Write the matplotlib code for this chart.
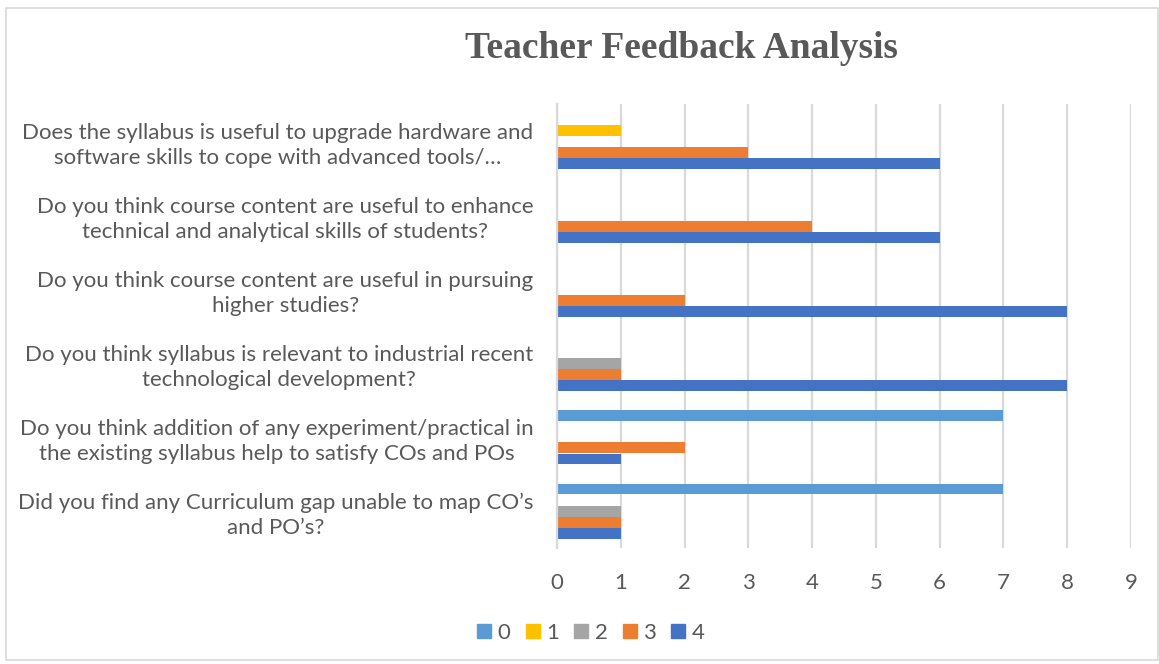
import matplotlib.pyplot as plt
import numpy as np
from matplotlib.patches import Rectangle
from matplotlib.lines import Line2D

# Questions (top to bottom)
questions = [
    "Does the syllabus is useful to upgrade hardware and\nsoftware skills to cope with advanced tools/…",
    "Do you think course content are useful to enhance\ntechnical and analytical skills of students?",
    "Do you think course content are useful in pursuing\nhigher studies?",
    "Do you think syllabus is relevant to industrial recent\ntechnological development?",
    "Do you think addition of any experiment/practical in\nthe existing syllabus help to satisfy COs and POs",
    "Did you find any Curriculum gap unable to map CO’s\nand PO’s?",
]

# Responses per rating (0..4), one value per question
series_names = ["0", "1", "2", "3", "4"]
r0 = [0, 0, 0, 0, 7, 7]
r1 = [1, 0, 0, 0, 0, 0]
r2 = [0, 0, 0, 1, 0, 1]
r3 = [3, 4, 2, 1, 2, 1]
r4 = [6, 6, 8, 8, 1, 1]
series = [r0, r1, r2, r3, r4]
colors = ["#5B9BD5", "#FFC000", "#A5A5A5", "#ED7D31", "#4472C4"]

text_gray = "#595959"
grid_gray = "#D9D9D9"

fig = plt.figure(figsize=(11.59, 6.64), dpi=100)
ax = fig.add_axes([557 / 1159, 1 - 548 / 664, (1131 - 557) / 1159, (548 - 104) / 664])

# border around the chart area
fig.patches.append(Rectangle((6 / 1159, 4 / 664), 1152 / 1159, 652 / 664,
                             transform=fig.transFigure, fill=False,
                             edgecolor=grid_gray, linewidth=1.2))

y = np.arange(len(questions))
h = 11 / 74
for i, (vals, c, name) in enumerate(zip(series, colors, series_names)):
    ax.barh(y + (i - 2) * h, vals, height=h, color=c, label=name)

ax.set_xlim(0, 9)
ax.set_ylim(len(questions) - 0.5, -0.5)
ax.set_xticks(range(10))
ax.xaxis.grid(True, color=grid_gray, linewidth=1.6)
ax.set_axisbelow(True)
for s in ["top", "right", "bottom"]:
    ax.spines[s].set_visible(False)
ax.spines["left"].set_color(grid_gray)
ax.spines["left"].set_linewidth(1.6)

ax.set_yticks(y)
ax.set_yticklabels(questions, fontsize=16, color=text_gray, family="Lato",
                   multialignment="center", linespacing=1.3)
ax.tick_params(axis="y", length=0, pad=17)
ax.tick_params(axis="x", length=0, pad=18, labelsize=16, labelcolor=text_gray)
for lb in ax.get_xticklabels():
    lb.set_family("Lato")

fig.text(681 / 1159, 1 - 48 / 664, "Teacher Feedback Analysis", ha="center", va="center",
         fontsize=27, fontweight="bold", color=text_gray, family="Liberation Serif")

# square legend markers like the original
handles = [Line2D([], [], marker="s", linestyle="none", markersize=10,
                  markerfacecolor=c, markeredgecolor=c) for c in colors]
leg = fig.legend(handles, series_names, loc="center",
                 bbox_to_anchor=(591 / 1159, 1 - 633 / 664), ncol=5,
                 frameon=False, handlelength=0.6, handletextpad=0.3,
                 columnspacing=0.7, prop={"family": "Lato", "size": 16})
for t in leg.get_texts():
    t.set_color(text_gray)

fig.savefig("out.png", dpi=100)
